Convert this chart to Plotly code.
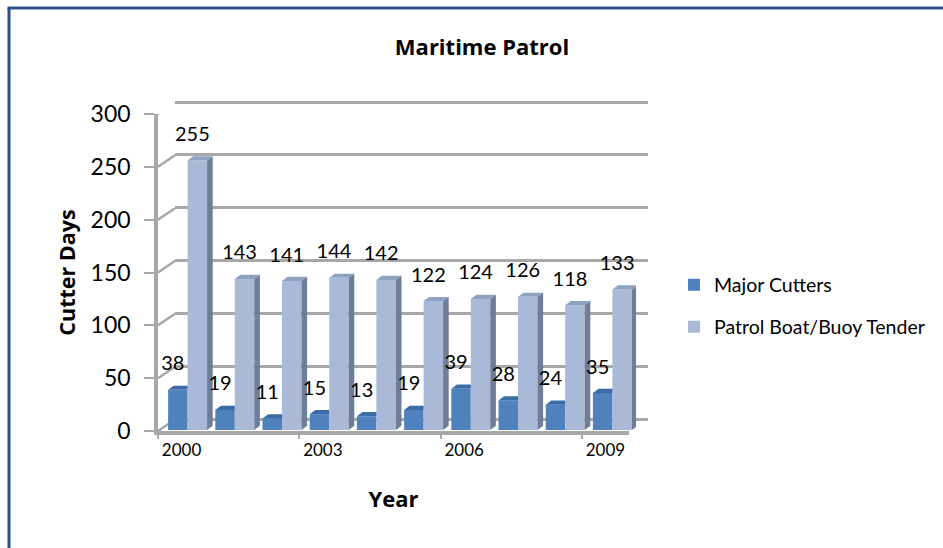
import plotly.graph_objects as go

years = ["2000", "2001", "2002", "2003", "2004", "2005", "2006", "2007", "2008", "2009"]
major_cutters = [38, 19, 11, 15, 13, 19, 39, 28, 24, 35]
patrol_boat = [255, 143, 141, 144, 142, 122, 124, 126, 118, 133]
y_ticks = [0, 50, 100, 150, 200, 250, 300]
x_labels = ["2000", "2003", "2006", "2009"]

W, H = 943, 548
FONT = "Lato"
BOLD = "Open Sans"
GRID = "#A8A8A8"
MAJOR, MAJOR_TOP = "#4F81BD", "#3B6CA6"
PATROL, PATROL_TOP, PATROL_SIDE = "#AAB9D7", "#8FA2C4", "#6E7E98"


def xd(a, b):
    return [a / W, b / W]


def yd(top, bottom):
    return [1 - bottom / H, 1 - top / H]


PX_X = 47.2
PX_Y = 317 / 300
idx = list(range(len(years)))
half = 19.5 / PX_X
dep_x = 5.6 / PX_X
dep_y = 4.2 / PX_Y


def poly(pts):
    xs, ys = [], []
    for p in pts:
        xs += [q[0] for q in p] + [p[0][0], None]
        ys += [q[1] for q in p] + [p[0][1], None]
    return xs, ys


fig = go.Figure()

# front plane carries the visible axes
fig.add_trace(go.Scatter(x=years, y=[0] * len(years), mode="markers", marker=dict(opacity=0),
                         showlegend=False, hoverinfo="skip", xaxis="x", yaxis="y"))

# wall/floor edges
dx_wall, dy_wall = 17 / 47.1, 11.5 / PX_Y
ex, ey = [], []
for v in y_ticks:
    ex += [-0.5, -0.5 + dx_wall, None]
    ey += [v, v + dy_wall, None]
ex += [9.5, 9.5 + dx_wall]
ey += [0, dy_wall]
fig.add_trace(go.Scatter(x=ex, y=ey, mode="lines", line=dict(color=GRID, width=2.5), cliponaxis=False,
                         showlegend=False, hoverinfo="skip", xaxis="x2", yaxis="y2"))

# back-wall gridlines
fig.add_trace(go.Scatter(x=[0, 1], y=[0, 0], mode="markers", marker=dict(opacity=0),
                         showlegend=False, hoverinfo="skip", xaxis="x3", yaxis="y3"))

# bars
fig.add_trace(go.Bar(x=idx, y=major_cutters, name="Major Cutters", marker=dict(color=MAJOR, line_width=0),
                     offset=-half, width=half, legend="legend", hoverinfo="x+y", xaxis="x4", yaxis="y4"))
fig.add_trace(go.Bar(x=idx, y=patrol_boat, name="Patrol Boat/Buoy Tender", marker=dict(color=PATROL, line_width=0),
                     offset=0, width=half, legend="legend2", hoverinfo="x+y", xaxis="x4", yaxis="y4"))

# bar depth
xs, ys = poly([[(i - half, v), (i - half + dep_x, v + dep_y), (i, v + dep_y), (i, v)]
               for i, v in zip(idx, major_cutters)])
fig.add_trace(go.Scatter(x=xs, y=ys, mode="lines", fill="toself", fillcolor=MAJOR_TOP, line=dict(width=0),
                         showlegend=False, hoverinfo="skip", xaxis="x4", yaxis="y4"))
xs, ys = poly([[(i, v), (i + dep_x, v + dep_y), (i + half + dep_x, v + dep_y), (i + half, v)]
               for i, v in zip(idx, patrol_boat)])
fig.add_trace(go.Scatter(x=xs, y=ys, mode="lines", fill="toself", fillcolor=PATROL_TOP, line=dict(width=0),
                         showlegend=False, hoverinfo="skip", xaxis="x4", yaxis="y4"))
xs, ys = poly([[(i + half, 0), (i + half + dep_x, dep_y), (i + half + dep_x, v + dep_y), (i + half, v)]
               for i, v in zip(idx, patrol_boat)])
fig.add_trace(go.Scatter(x=xs, y=ys, mode="lines", fill="toself", fillcolor=PATROL_SIDE, line=dict(width=0),
                         showlegend=False, hoverinfo="skip", xaxis="x4", yaxis="y4"))

# value labels
shift = 5 / PX_X
lift = 24.5 / PX_Y
fig.add_trace(go.Scatter(x=[i - half / 2 - shift for i in idx], y=[v + lift for v in major_cutters],
                         text=[str(v) for v in major_cutters], mode="text", textposition="middle center",
                         textfont=dict(family=FONT, size=20, color="black"), cliponaxis=False,
                         showlegend=False, hoverinfo="skip", xaxis="x4", yaxis="y4"))
fig.add_trace(go.Scatter(x=[i + half / 2 - shift for i in idx], y=[v + lift for v in patrol_boat],
                         text=[str(v) for v in patrol_boat], mode="text", textposition="middle center",
                         textfont=dict(family=FONT, size=20, color="black"), cliponaxis=False,
                         showlegend=False, hoverinfo="skip", xaxis="x4", yaxis="y4"))

hidden = dict(visible=False, automargin=False)
leg = dict(xanchor="left", yanchor="middle", bgcolor="rgba(0,0,0,0)", font=dict(family=FONT, size=19.5), itemwidth=30)
boundary_ticks = [-0.5, 2.5, 5.5, 8.5]
fig.update_layout(
    width=W, height=H, margin=dict(l=0, r=0, t=0, b=0),
    paper_bgcolor="white", plot_bgcolor="rgba(0,0,0,0)",
    font=dict(family=FONT, color="black"),
    showlegend=True,
    legend=dict(x=674 / W, y=1 - 285 / H, **leg),
    legend2=dict(x=674 / W, y=1 - 327 / H, **leg),
    title=dict(text="<b>Maritime Patrol</b>", x=482 / W, xanchor="center", y=1 - 47 / H, yanchor="middle",
               font=dict(family=BOLD, size=22, color="black")),
    xaxis=dict(domain=xd(158, 629), type="category", categoryorder="array", categoryarray=years,
               range=[-0.5, 9.5], tickmode="array", tickvals=x_labels, ticktext=x_labels, tickangle=0,
               showgrid=False, showline=True, linecolor=GRID, linewidth=4, ticks="outside", ticklen=1,
               automargin=False, tickcolor="rgba(0,0,0,0)", tickwidth=2, tickfont=dict(family=FONT, size=17),
               anchor="y",
               title=dict(text="<b>Year</b>", font=dict(family=BOLD, size=22), standoff=33)),
    yaxis=dict(domain=yd(114, 431), range=[0, 300], tickvals=y_ticks, showgrid=False, zeroline=False,
               automargin=False,
               showline=True, linecolor=GRID, linewidth=3.5, ticks="outside", ticklen=10, tickcolor=GRID,
               tickwidth=2, ticklabelstandoff=9, tickfont=dict(family=FONT, size=23), anchor="x",
               title=dict(text="<b>Cutter Days</b>", font=dict(family=BOLD, size=21.5), standoff=10)),
    xaxis2=dict(domain=xd(158, 629), range=[-0.5, 9.5], anchor="y2", automargin=False, tickvals=boundary_ticks,
                showticklabels=False, ticks="outside", ticklen=7, tickcolor=GRID, tickwidth=2,
                showgrid=False, zeroline=False, showline=False),
    yaxis2=dict(domain=yd(114, 431), range=[0, 300], anchor="x2", **hidden),
    xaxis3=dict(domain=xd(175, 648), range=[0, 1], anchor="y3", showticklabels=False, showgrid=False,
                automargin=False, zeroline=False, showline=False, ticks=""),
    yaxis3=dict(domain=yd(102 - 2 * PX_Y, 419.5 + 2 * PX_Y), range=[-2, 302], tickvals=y_ticks, anchor="x3",
                showticklabels=False, automargin=False, showgrid=True, gridcolor=GRID, gridwidth=2.5,
                zeroline=False, showline=False, ticks=""),
    xaxis4=dict(domain=xd(164, 636), range=[-0.5, 9.5], anchor="y4", **hidden),
    yaxis4=dict(domain=yd(113, 430), range=[0, 300], anchor="x4", **hidden),
    shapes=[
        dict(type="line", xref="paper", yref="paper", x0=9 / W, x1=9 / W, y0=0, y1=1 - 8 / H,
             line=dict(color="#2A5286", width=3)),
        dict(type="line", xref="paper", yref="paper", x0=7.5 / W, x1=1, y0=1 - 8 / H, y1=1 - 8 / H,
             line=dict(color="#2A5286", width=3)),
    ],
)

fig.write_html("out.html", post_script="document.body.style.margin='0';",
               config={"displayModeBar": False})
